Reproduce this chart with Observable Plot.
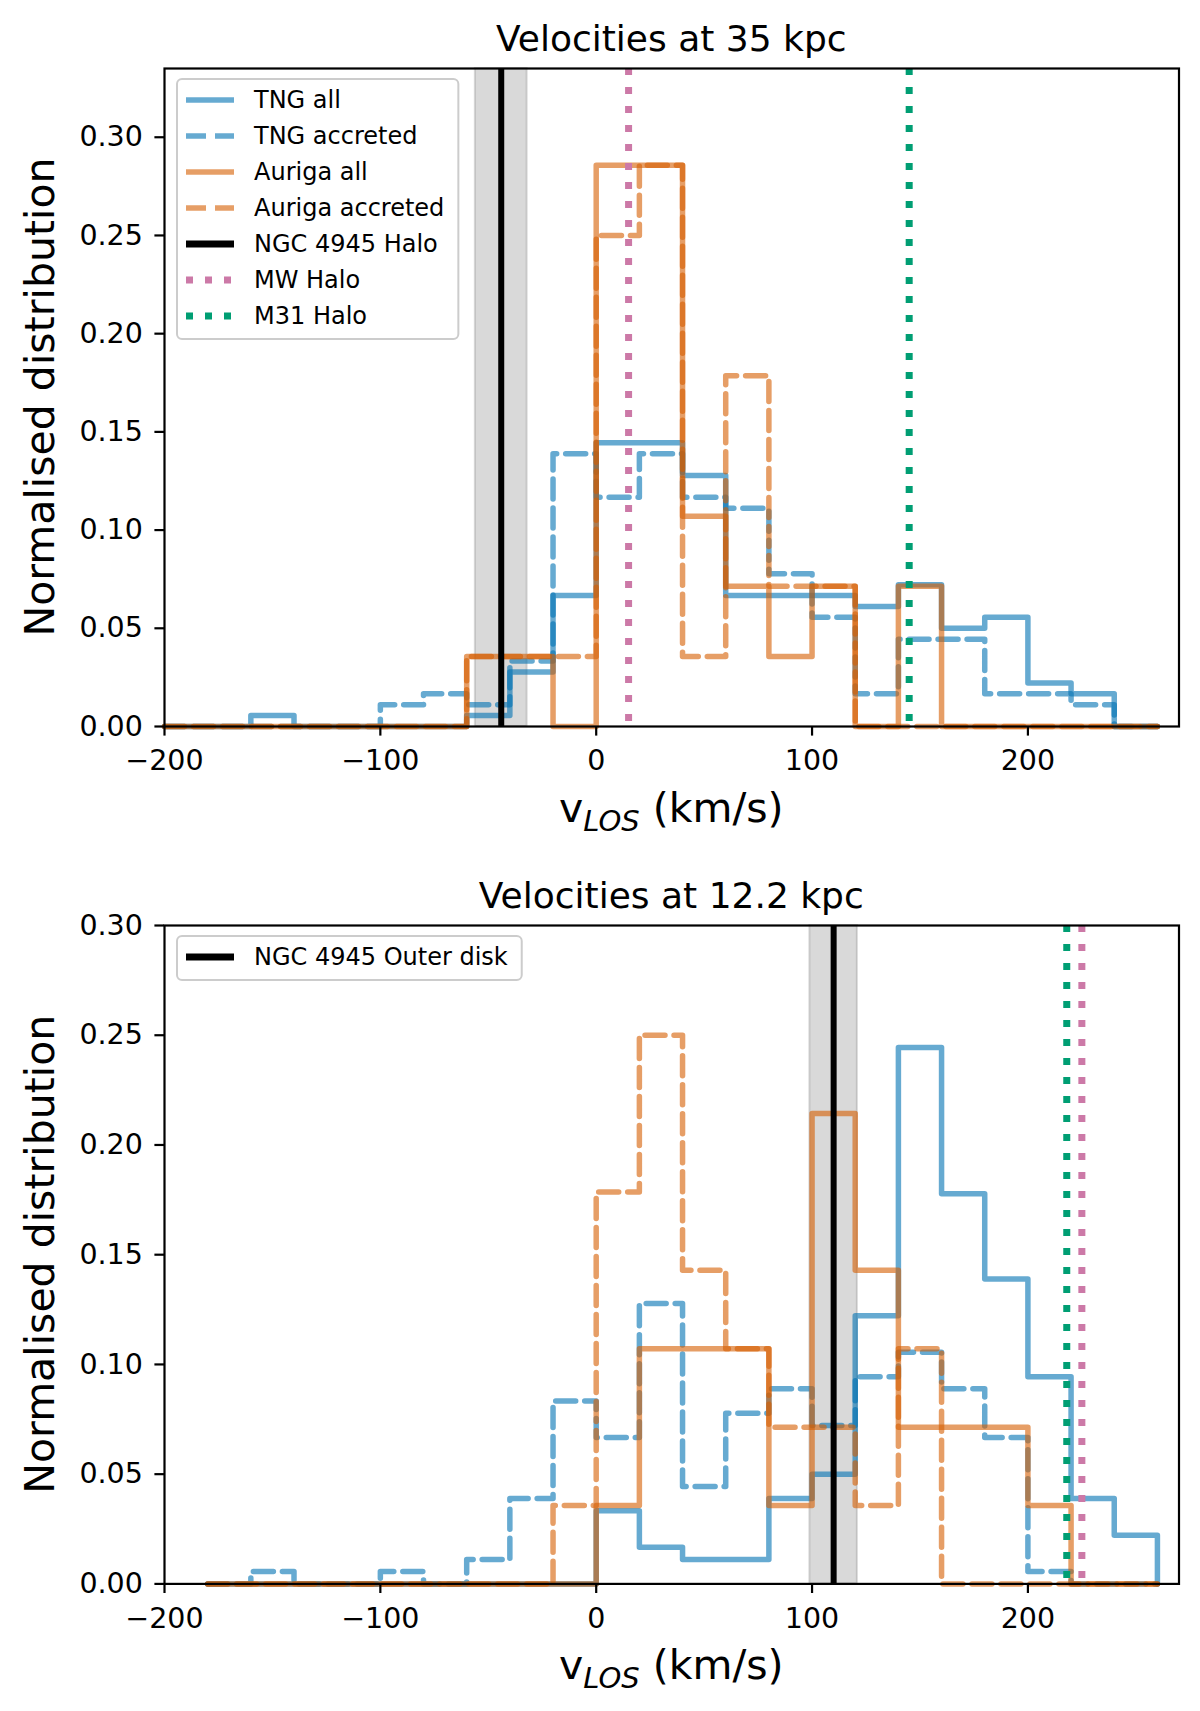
<!DOCTYPE html>
<html>
<head>
<meta charset="utf-8">
<script src="https://cdn.jsdelivr.net/npm/d3@7"></script>
<script src="https://cdn.jsdelivr.net/npm/@observablehq/plot@0.6"></script>
<style>
  body { margin: 0; background: #fff; font-family: "DejaVu Sans", sans-serif; }
  #fig { position: relative; width: 1200px; height: 1711px; }
  #fig svg { position: absolute; left: 0; overflow: visible; }
</style>
</head>
<body>
<div id="fig"></div>
<script>
// bin edges, km/s
const edges35 = [-200, -180, -160, -140, -120, -100, -80, -60, -40, -20, 0, 20, 40, 60, 80, 100, 120, 140, 160, 180, 200, 220, 240, 260];
const edges12 = [-180, -160, -140, -120, -100, -80, -60, -40, -20, 0, 20, 40, 60, 80, 100, 120, 140, 160, 180, 200, 220, 240, 260];

// normalised histograms at 35 kpc (one value per bin)
const tngAll35 = [0, 0, 0.0056, 0, 0, 0, 0, 0.0056, 0.0278, 0.0667, 0.1444, 0.1444, 0.1278, 0.0667, 0.0667, 0.0667, 0.0611, 0.0722, 0.05, 0.0556, 0.0222, 0.0167, 0];
const tngAcc35 = [0, 0, 0, 0, 0, 0.0111, 0.0167, 0.0111, 0.0333, 0.1389, 0.1167, 0.1389, 0.1167, 0.1111, 0.0778, 0.0556, 0.0167, 0.0444, 0.0444, 0.0167, 0.0167, 0.0111, 0];
const aurAll35 = [0, 0, 0, 0, 0, 0, 0, 0.0357, 0.0357, 0, 0.2857, 0.2857, 0.1071, 0.0714, 0.0357, 0.0714, 0, 0.0714, 0, 0, 0, 0, 0];
const aurAcc35 = [0, 0, 0, 0, 0, 0, 0, 0.0357, 0.0357, 0.0357, 0.25, 0.2857, 0.0357, 0.1786, 0.0714, 0.0714, 0, 0, 0, 0, 0, 0, 0];

// normalised histograms at 12.2 kpc
const tngAll12 = [0, 0, 0, 0, 0, 0, 0, 0, 0, 0.0333, 0.0167, 0.0111, 0.0111, 0.0389, 0.05, 0.1222, 0.2444, 0.1778, 0.1389, 0.0944, 0.0389, 0.0222];
const tngAcc12 = [0, 0.0056, 0, 0, 0.0056, 0, 0.0111, 0.0389, 0.0833, 0.0667, 0.1278, 0.0444, 0.0778, 0.0889, 0.0722, 0.0944, 0.1056, 0.0889, 0.0667, 0.0056, 0, 0];
const aurAll12 = [0, 0, 0, 0, 0, 0, 0, 0, 0, 0.0357, 0.1071, 0.1071, 0.1071, 0.0357, 0.2143, 0.1429, 0.0714, 0.0714, 0.0714, 0.0357, 0, 0];
const aurAcc12 = [0, 0, 0, 0, 0, 0, 0, 0, 0.0357, 0.1786, 0.25, 0.1429, 0.1071, 0.0714, 0.0714, 0.0357, 0.1071, 0, 0, 0, 0, 0];

// reference velocities (km/s)
const ngcHalo = -44, ngcHaloErr = 12;
const ngcDisk = 110, ngcDiskErr = 11;
const mwHalo35 = 15, m31Halo35 = 145;
const mwHalo12 = 225, m31Halo12 = 218;

const xTicks = [-200, -100, 0, 100, 200];
const yTicks = [0, 0.05, 0.10, 0.15, 0.20, 0.25, 0.30];

const blue = "#0072B2", orange = "#D55E00", pink = "#CC79A7", green = "#009E73";
const DASH = "20,9", DOT = "7,12";

const seriesStyle = [
  {label: "TNG all", stroke: blue, dash: null},
  {label: "TNG accreted", stroke: blue, dash: DASH},
  {label: "Auriga all", stroke: orange, dash: null},
  {label: "Auriga accreted", stroke: orange, dash: DASH}
];

// outline of a step histogram, like histtype='step'
function steps(edges, vals) {
  const pts = [{x: edges[0], y: 0}];
  vals.forEach((v, i) => {
    pts.push({x: edges[i], y: v}, {x: edges[i + 1], y: v});
  });
  pts.push({x: edges[edges.length - 1], y: 0});
  return pts;
}

const ML = 164, MR = 21.5, W = 1200;

function panel(o) {
  return Plot.plot({
    width: W,
    height: o.height,
    marginLeft: ML,
    marginRight: MR,
    marginTop: o.mTop,
    marginBottom: o.mBottom,
    style: {fontFamily: "DejaVu Sans", fontSize: "28.5px", color: "black", background: "white", overflow: "visible"},
    x: {domain: [-200, 270]},
    y: {domain: o.yDomain},
    marks: [
      Plot.rect([{x1: o.ref - o.err, x2: o.ref + o.err}], {x1: "x1", x2: "x2", fill: "#808080", fillOpacity: 0.3, stroke: "#808080", strokeOpacity: 0.3, strokeWidth: 2}),
      ...o.hists.map((vals, i) => Plot.line(steps(o.edges, vals), {
        x: "x", y: "y",
        stroke: seriesStyle[i].stroke,
        strokeOpacity: 0.6,
        strokeWidth: 5.5,
        strokeDasharray: seriesStyle[i].dash,
        strokeLinejoin: "round"
      })),
      Plot.ruleX([o.ref], {stroke: "black", strokeWidth: 6}),
      Plot.ruleX([o.mw], {stroke: pink, strokeWidth: 7, strokeDasharray: DOT}),
      Plot.ruleX([o.m31], {stroke: green, strokeWidth: 7, strokeDasharray: DOT}),
      Plot.frame({stroke: "black", strokeWidth: 2.2}),
      Plot.axisX({ticks: xTicks, tickSize: 9.6, tickPadding: 14, strokeWidth: 2.2, fontSize: 28.5, label: null}),
      Plot.axisY({ticks: yTicks, tickFormat: ".2f", tickSize: 9.6, tickPadding: 12, strokeWidth: 2.2, fontSize: 28.5, label: null})
    ]
  });
}

const p1 = panel({
  height: 860, mTop: 68, mBottom: 134,
  edges: edges35, hists: [tngAll35, tngAcc35, aurAll35, aurAcc35],
  ref: ngcHalo, err: ngcHaloErr, mw: mwHalo35, m31: m31Halo35,
  yDomain: [0, 0.335]
});
const p2 = panel({
  height: 851, mTop: 65, mBottom: 127.6,
  edges: edges12, hists: [tngAll12, tngAcc12, aurAll12, aurAcc12],
  ref: ngcDisk, err: ngcDiskErr, mw: mwHalo12, m31: m31Halo12,
  yDomain: [0, 0.30]
});

const fig = document.getElementById("fig");
p1.style.top = "0px";
p2.style.top = "860px";
fig.append(p1, p2);

function decorate(svgEl, title, frameTop, frameBottom, legendItems) {
  const svg = d3.select(svgEl);
  const cx = (ML + W - MR) / 2;
  svg.append("text")
    .attr("x", cx).attr("y", frameTop - 30)
    .attr("text-anchor", "middle").attr("dominant-baseline", "central")
    .style("font-size", "36px").attr("fill", "black")
    .text(title);

  svg.append("text")
    .attr("transform", `translate(40,${(frameTop + frameBottom) / 2}) rotate(-90)`)
    .attr("text-anchor", "middle").attr("dominant-baseline", "central")
    .style("font-size", "41px").attr("fill", "black")
    .text("Normalised distribution");

  const xl = svg.append("text")
    .attr("x", cx).attr("y", frameBottom + 96)
    .attr("text-anchor", "middle")
    .style("font-size", "41px").attr("fill", "black");
  xl.append("tspan").text("v");
  xl.append("tspan").attr("dy", 9).style("font-size", "29px").style("font-style", "italic").text("LOS");
  xl.append("tspan").attr("dy", -9).text(" (km/s)");

  // legend
  const lx = ML + 13, ly = frameTop + 11, rowH = 36;
  const g = svg.append("g");
  const box = g.append("rect")
    .attr("x", lx).attr("y", ly).attr("rx", 5)
    .attr("fill", "white").attr("fill-opacity", 0.8)
    .attr("stroke", "#cccccc").attr("stroke-width", 2);
  let maxW = 0;
  legendItems.forEach((it, i) => {
    const y = ly + 21 + i * rowH;
    g.append("line")
      .attr("x1", lx + 9).attr("x2", lx + 57).attr("y1", y).attr("y2", y)
      .attr("stroke", it.stroke).attr("stroke-opacity", it.opacity)
      .attr("stroke-width", it.width).attr("stroke-dasharray", it.dash);
    const t = g.append("text")
      .attr("x", lx + 77).attr("y", y)
      .attr("text-anchor", "start")
      .attr("dominant-baseline", "central")
      .style("font-size", "24px").attr("fill", "black")
      .text(it.label);
    maxW = Math.max(maxW, t.node().getComputedTextLength());
  });
  box.attr("width", 77 + maxW + 14).attr("height", legendItems.length * rowH + 8);
}

const legendTop = [
  ...seriesStyle.map(s => ({label: s.label, stroke: s.stroke, opacity: 0.6, width: 5.5, dash: s.dash})),
  {label: "NGC 4945 Halo", stroke: "black", opacity: 1, width: 7, dash: null},
  {label: "MW Halo", stroke: pink, opacity: 1, width: 7, dash: DOT},
  {label: "M31 Halo", stroke: green, opacity: 1, width: 7, dash: DOT}
];
const legendBottom = [
  {label: "NGC 4945 Outer disk", stroke: "black", opacity: 1, width: 7, dash: null}
];

decorate(p1, "Velocities at 35 kpc", 68, 726, legendTop);
decorate(p2, "Velocities at 12.2 kpc", 65, 723.4, legendBottom);
</script>
</body>
</html>
